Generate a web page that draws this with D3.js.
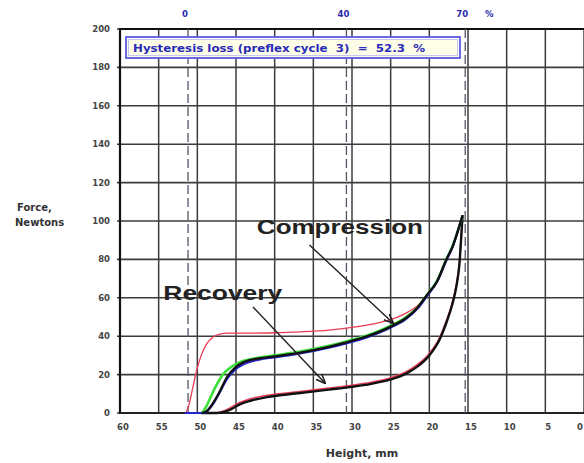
<!DOCTYPE html>
<html>
<head>
<meta charset="utf-8">
<script src="https://cdn.jsdelivr.net/npm/d3@7"></script>
<style>
    body { margin: 0; background: #fff; }
    svg { display: block; }
    .tick { font-family: "DejaVu Sans", Verdana, sans-serif; font-weight: bold; font-size: 8.5px; fill: #444; }
</style>
</head>
<body>
<svg id="chart" width="584" height="463"></svg>
<script>
// axis ticks
var xTicks = [60, 55, 50, 45, 40, 35, 30, 25, 20, 15, 10, 5, 0];
var yTicks = [0, 20, 40, 60, 80, 100, 120, 140, 160, 180, 200];

// compression markers (% of initial height)
var startHeight = 51.2;
var markers = [0, 40, 70];

// curves: [height mm, force N]
var redCompression = [[51.5, 0], [51.1, 4], [50.6, 13], [50.1, 22], [49.5, 30], [48.8, 36], [48, 39.5], [47.2, 41], [46, 41.6], [43, 41.6], [40, 41.8], [36.7, 42.3], [33, 43.2], [30, 44.6], [27, 46.6], [25, 48.6], [23, 52], [21.5, 56], [20.3, 61], [19, 68], [17.8, 79], [17, 86], [16.3, 95], [15.7, 103]];
var greenCompression = [[49.4, 0], [48.9, 3], [48.2, 9], [47.4, 15.5], [46.6, 20.5], [45.6, 24], [44.5, 26.5], [42.5, 28.5], [40, 30], [36.7, 32], [33, 35], [31, 37], [28, 40.5], [25, 45.5], [23, 50], [21.5, 55], [20.3, 61.5], [19, 69], [17.8, 80], [17, 87], [16.3, 95], [15.7, 103]];
var blueCompression = [[51.6, 0], [49.3, 0], [48.7, 1], [48, 4.5], [47, 11.5], [46.2, 17.5], [45, 23], [44, 25.5], [42, 27.8], [40, 29], [36.7, 31], [33, 34], [31, 36], [28, 39.5], [25, 44.5], [23, 49], [21.5, 54.5], [20.3, 61], [19, 68.5], [17.8, 79.5], [17, 86.5], [16.3, 95], [15.7, 103]];
var blackCompression = [[49.4, 0], [48.8, 1], [48, 5], [47, 12], [46.2, 18.5], [45, 24], [44, 26.5], [42, 28.5], [40, 29.5], [36.7, 31.5], [33, 34.5], [31, 36.5], [28, 40], [25, 45], [23, 49.5], [21.5, 55], [20.3, 61.5], [19, 68.5], [17.8, 80], [17, 86.5], [16.3, 95], [15.7, 103]];
var redRecovery = [[15.7, 103], [15.9, 91], [16.1, 79], [16.5, 67], [17, 58], [17.8, 48], [18.7, 39], [20, 31], [21.6, 25], [23, 21.5], [25, 18.3], [27.5, 16], [30.3, 14.3], [33, 13], [36.7, 11.2], [41, 9.2], [43, 7.5], [44.5, 5.5], [45.8, 2.6], [46.8, 0.8], [47.6, 0]];
var blackRecovery = [[15.7, 103], [15.9, 90], [16.1, 78], [16.5, 66], [17, 57], [17.8, 47], [18.7, 38], [20, 30], [21.6, 24], [23, 20.5], [25, 17.5], [27.5, 15.2], [30.3, 13.5], [33, 12.2], [36.7, 10.4], [41, 8.3], [43, 6.5], [44.5, 4.5], [45.8, 1.6], [46.8, 0.3], [47.5, 0], [49.5, 0]];

// annotations: text position and arrow [from, to] in data units
var notes = [
    { text: "Compression", x: 42.3, y: 93.2, len: 166, arrow: [[35.5, 87.5], [24.7, 46.9]] },
    { text: "Recovery", x: 54.4, y: 58.9, len: 119, arrow: [[42.8, 55.2], [33.5, 15.6]] }
];
var lossText = "Hysteresis loss (preflex cycle  3)  =  52.3  %";

var svg = d3.select("#chart");
// plot frame in px (note: "top" is reserved on window)
var pLeft = 120, pRight = 584, pTop = 29, pBottom = 413;

var x = d3.scaleLinear().domain([60, 0]).range([pLeft, pRight]);
var y = d3.scaleLinear().domain([0, 200]).range([pBottom, pTop]);

drawGrid();
drawCurves();
drawLabels();

function drawGrid() {
    svg.selectAll("line.hgrid").data(yTicks).enter().append("line")
        .attr("x1", pLeft - 3).attr("x2", pRight)
        .attr("y1", function (d) { return y(d); })
        .attr("y2", function (d) { return y(d); })
        .attr("stroke", "#3c3c3c").attr("stroke-width", 1.6);

    svg.selectAll("line.vgrid").data(xTicks).enter().append("line")
        .attr("x1", function (d) { return x(d); })
        .attr("x2", function (d) { return x(d); })
        .attr("y1", pTop).attr("y2", pBottom)
        .attr("stroke", "#3c3c3c").attr("stroke-width", 1.5);

    // frame
    svg.append("line").attr("x1", pLeft).attr("x2", pLeft).attr("y1", pTop - 1).attr("y2", pBottom + 1)
        .attr("stroke", "#111").attr("stroke-width", 2.2);
    svg.append("line").attr("x1", pLeft).attr("x2", pRight).attr("y1", pTop).attr("y2", pTop)
        .attr("stroke", "#111").attr("stroke-width", 2);
    svg.append("line").attr("x1", pLeft).attr("x2", pRight).attr("y1", pBottom).attr("y2", pBottom)
        .attr("stroke", "#222").attr("stroke-width", 2);

    // dashed compression markers
    svg.selectAll("line.marker").data(markers).enter().append("line")
        .attr("x1", function (d) { return x(startHeight * (1 - d / 100)); })
        .attr("x2", function (d) { return x(startHeight * (1 - d / 100)); })
        .attr("y1", pTop).attr("y2", pBottom)
        .attr("stroke", "#555566").attr("stroke-width", 1.3)
        .attr("stroke-dasharray", "9,4");
}

function drawCurves() {
    var line = d3.line()
        .x(function (d) { return x(d[0]); })
        .y(function (d) { return y(d[1]); })
        .curve(d3.curveMonotoneX);

    var curves = [
        { data: redCompression, color: "#e83c55", w: 1.3 },
        { data: redRecovery, color: "#e83c55", w: 1.6 },
        { data: blackRecovery, color: "#111", w: 2.4 },
        { data: greenCompression, color: "#3ee03e", w: 2.6 },
        { data: blueCompression, color: "#2424c8", w: 2.2 },
        { data: blackCompression, color: "#111", w: 2.3 }
    ];
    curves.forEach(function (c) {
        svg.append("path")
            .datum(c.data)
            .attr("d", line)
            .attr("fill", "none")
            .attr("stroke", c.color)
            .attr("stroke-width", c.w)
            .attr("stroke-linejoin", "round");
    });
}

function drawLabels() {
    svg.selectAll("text.ylab").data(yTicks).enter().append("text")
        .attr("class", "tick")
        .attr("x", 110)
        .attr("y", function (d) { return y(d) + 3; })
        .attr("text-anchor", "end")
        .text(function (d) { return d; });

    // last label (0) sits at the right edge, keep it inside
    svg.selectAll("text.xlab").data(xTicks).enter().append("text")
        .attr("class", "tick")
        .attr("x", function (d) { return d === 0 ? x(d) - 1 : x(d) + 3; })
        .attr("y", 430)
        .attr("text-anchor", function (d) { return d === 0 ? "end" : "middle"; })
        .text(function (d) { return d; });

    // percent labels over markers
    svg.selectAll("text.pct").data(markers).enter().append("text")
        .attr("class", "tick")
        .style("fill", "#2a2ab0")
        .attr("x", function (d) { return x(startHeight * (1 - d / 100)) - 3; })
        .attr("y", 17)
        .attr("text-anchor", "middle")
        .text(function (d) { return d; });
    svg.append("text").attr("class", "tick").style("fill", "#2a2ab0")
        .attr("x", x(startHeight * 0.3) + 24).attr("y", 17)
        .attr("text-anchor", "middle").text("%");

    svg.append("text")
        .attr("x", 362).attr("y", 457)
        .attr("text-anchor", "middle")
        .style("font", "bold 11px 'DejaVu Sans', sans-serif")
        .style("fill", "#333")
        .text("Height, mm");

    svg.append("text").attr("x", 17).attr("y", 211)
        .style("font", "bold 10px 'DejaVu Sans', sans-serif").style("fill", "#333")
        .text("Force,");
    svg.append("text").attr("x", 15).attr("y", 226)
        .style("font", "bold 10px 'DejaVu Sans', sans-serif").style("fill", "#333")
        .text("Newtons");

    // hysteresis box
    svg.append("rect")
        .attr("x", 126).attr("y", 37).attr("width", 334).attr("height", 21)
        .attr("fill", "#fdfde8")
        .attr("stroke", "#5a5ae6").attr("stroke-width", 1.8);
    svg.append("rect")
        .attr("x", 128.5).attr("y", 39.5).attr("width", 329).attr("height", 16)
        .attr("fill", "none")
        .attr("stroke", "#b8b8f4").attr("stroke-width", 0.8);
    svg.append("text")
        .attr("x", 133).attr("y", 51.5)
        .attr("textLength", 292).attr("lengthAdjust", "spacingAndGlyphs")
        .style("font", "bold 10px 'DejaVu Sans', sans-serif")
        .style("fill", "#2a2ab8")
        .style("white-space", "pre")
        .text(lossText);

    // arrows and big labels
    svg.append("defs").append("marker")
        .attr("id", "head")
        .attr("viewBox", "0 0 10 10")
        .attr("refX", 9).attr("refY", 5)
        .attr("markerWidth", 7).attr("markerHeight", 7)
        .attr("orient", "auto")
        .append("path")
        .attr("d", "M0,1 L10,5 L0,9")
        .attr("fill", "none").attr("stroke", "#222").attr("stroke-width", 1.6);

    notes.forEach(function (n) {
        svg.append("line")
            .attr("x1", x(n.arrow[0][0])).attr("y1", y(n.arrow[0][1]))
            .attr("x2", x(n.arrow[1][0])).attr("y2", y(n.arrow[1][1]))
            .attr("stroke", "#222").attr("stroke-width", 1.4)
            .attr("marker-end", "url(#head)");
        svg.append("text")
            .attr("x", x(n.x)).attr("y", y(n.y))
            .attr("textLength", n.len).attr("lengthAdjust", "spacingAndGlyphs")
            .style("font", "bold 21px 'Liberation Sans', Arial, sans-serif")
            .style("fill", "#222")
            .text(n.text);
    });
}
</script>
</body>
</html>
